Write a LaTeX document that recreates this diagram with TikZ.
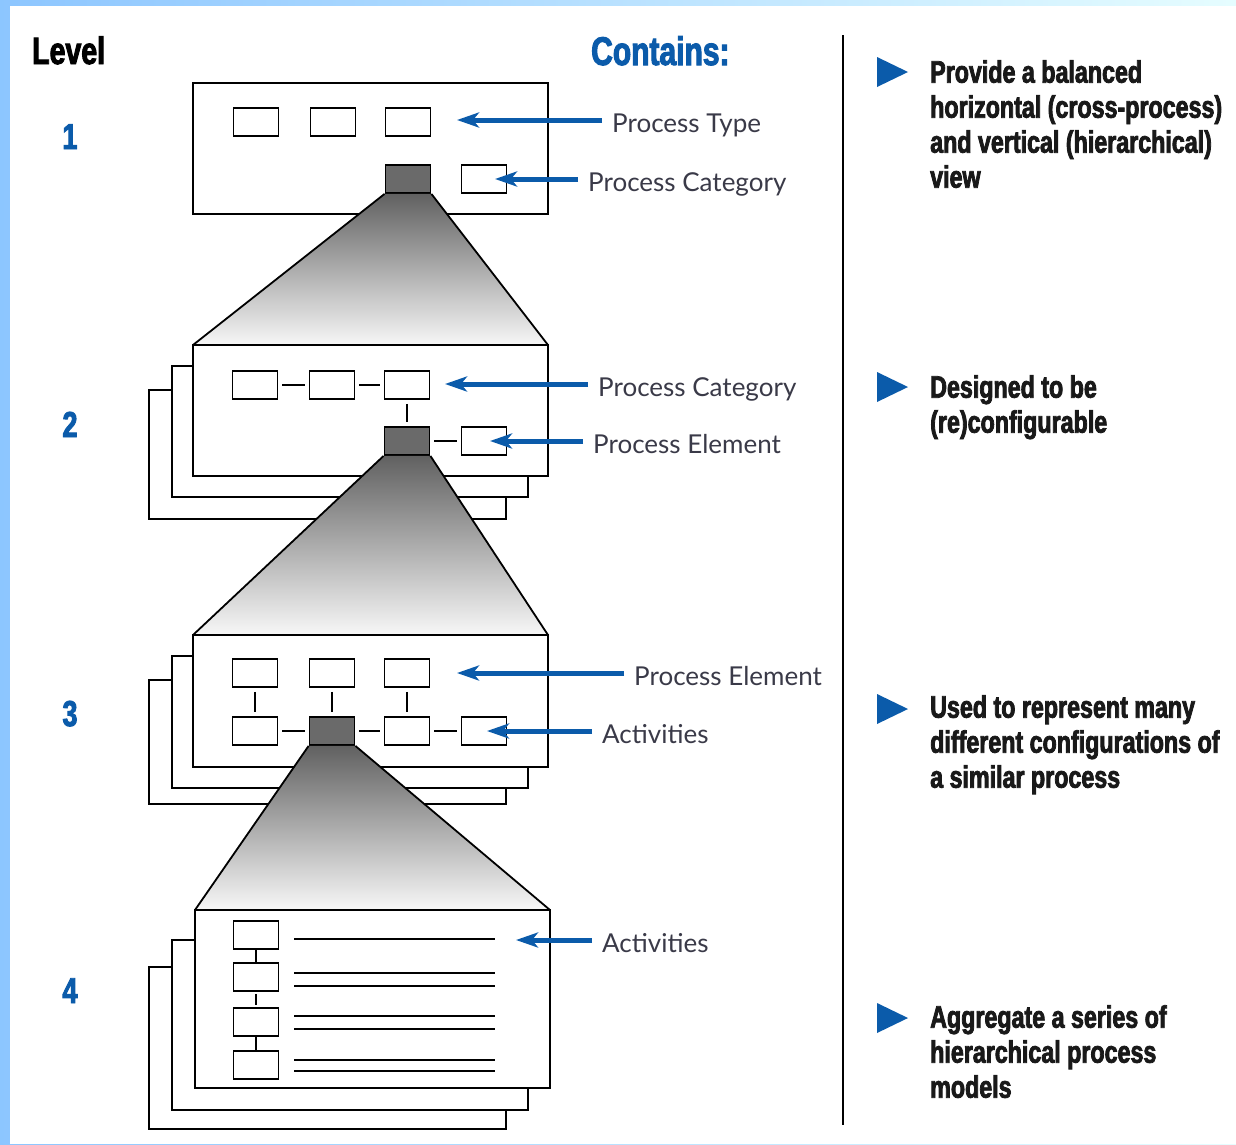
\documentclass[tikz,border=0pt]{standalone}
\usepackage{fontspec}
\setmainfont{Lato}
\newfontfamily\condfont{Liberation Sans}[FakeStretch=0.75, BoldFeatures={FakeBold=2.5}]
\usetikzlibrary{arrows.meta,positioning}
\definecolor{scorblue}{HTML}{0B5BAA}
\definecolor{darkfill}{HTML}{6A6A6A}
\definecolor{lbltext}{HTML}{3A3A48}
\tikzset{
  page/.style={draw, line width=1.8pt, fill=white},
  sbox/.style={draw, line width=1.8pt, fill=white, minimum width=45pt, minimum height=28pt, inner sep=0pt},
  dbox/.style={sbox, fill=darkfill},
  link/.style={line width=1.8pt, shorten <=4pt, shorten >=4pt},
  funnel/.style={top color=black!62, bottom color=black!3},
  ptr/.style={scorblue, line width=5pt, -{Stealth[length=22pt, width=15pt, inset=6pt]}},
  lbl/.style={anchor=west, inner xsep=10pt, inner ysep=0pt, text height=25pt, text depth=0pt, text=lbltext, font=\fontsize{26}{26}\selectfont},
  head/.style={anchor=base west, inner sep=0pt, font=\condfont\bfseries\fontsize{38}{38}\selectfont},
  num/.style={anchor=base, inner sep=0pt, text=scorblue, font=\condfont\bfseries\fontsize{36}{36}\selectfont},
  bul/.style={anchor=north west, align=left, inner sep=0pt, text=black!90, font=\condfont\bfseries\fontsize{31}{35}\selectfont}
}
\begin{document}
\begin{tikzpicture}[x=1pt, y=-1pt]
  \useasboundingbox (0,0) rectangle (1236,1144);
  % background
  \shade[left color=blue!50!cyan!45, right color=blue!8!cyan!10] (0,0) rectangle (1236,1144);
  \fill[white] (10,6) rectangle (1236,1144);

  % headings
  \node[head] (level) at (32,64) {Level};
  \node[head, text=scorblue, font=\condfont\bfseries\fontsize{40}{40}\selectfont] (contains) at (591,65) {Contains:};
  \node[num] (n1) at (70,149) {1};
  \node[num] (n2) at (70,437) {2};
  \node[num] (n3) at (70,726) {3};
  \node[num] (n4) at (70,1003) {4};

  % level 1
  \draw[page] (193,83) rectangle (548,214);
  \node[sbox] (a1) at (256,122) {};
  \node[sbox] (a2) at (333,122) {};
  \node[sbox] (a3) at (408,122) {};
  \node[dbox] (ad) at (408,179) {};
  \node[sbox] (ac) at (484,179) {};
  \shade[funnel] (ad.south west) -- (ad.south east) -- (548,345) -- (193,345) -- cycle;
  \draw[line width=1.8pt] (ad.south west) -- (193,345) (ad.south east) -- (548,345);

  % level 2
  \draw[page] (149,390) rectangle (506,519);
  \draw[page] (172,366) rectangle (528,497);
  \draw[page] (193,345) rectangle (548,476);
  \node[sbox] (b1) at (255,385) {};
  \node[sbox] (b2) at (332,385) {};
  \node[sbox] (b3) at (407,385) {};
  \node[dbox] (bd) at (407,441) {};
  \node[sbox] (be) at (484,441) {};
  \draw[link] (b1) -- (b2);
  \draw[link] (b2) -- (b3);
  \draw[link] (b3) -- (bd);
  \draw[link] (bd) -- (be);
  \shade[funnel] (bd.south west) -- (bd.south east) -- (548,635) -- (193,635) -- cycle;
  \draw[line width=1.8pt] (bd.south west) -- (193,635) (bd.south east) -- (548,635);

  % level 3
  \draw[page] (149,680) rectangle (506,804);
  \draw[page] (172,656) rectangle (528,788);
  \draw[page] (193,635) rectangle (548,767);
  \node[sbox] (c1) at (255,673) {};
  \node[sbox] (c2) at (332,673) {};
  \node[sbox] (c3) at (407,673) {};
  \node[sbox] (c4) at (255,731) {};
  \node[dbox] (cd) at (332,731) {};
  \node[sbox] (c5) at (407,731) {};
  \node[sbox] (c6) at (484,731) {};
  \draw[link] (c1) -- (c4);
  \draw[link] (c2) -- (cd);
  \draw[link] (c3) -- (c5);
  \draw[link] (c4) -- (cd);
  \draw[link] (cd) -- (c5);
  \draw[link] (c5) -- (c6);
  \shade[funnel] (cd.south west) -- (cd.south east) -- (550,910) -- (195,910) -- cycle;
  \draw[line width=1.8pt] (cd.south west) -- (195,910) (cd.south east) -- (550,910);

  % level 4
  \draw[page] (149,967) rectangle (506,1129);
  \draw[page] (172,940) rectangle (528,1110);
  \draw[page] (195,910) rectangle (550,1088);
  \node[sbox] (d1) at (256,935) {};
  \node[sbox] (d2) at (256,977) {};
  \node[sbox] (d3) at (256,1022) {};
  \node[sbox] (d4) at (256,1065) {};
  \draw[line width=1.8pt] (d1) -- (d2);
  \draw[link, shorten <=2pt, shorten >=2pt] (d2) -- (d3);
  \draw[line width=1.8pt] (d3) -- (d4);
  \foreach \y in {939,973,986,1016,1029,1060,1071}
    \draw[line width=1.8pt] (294,\y) -- (495,\y);

  % labels and pointers
  \node[lbl] (t1) at (602,120) {Process Type};
  \node[lbl] (t2) at (578,179) {Process Category};
  \node[lbl] (t3) at (588,384) {Process Category};
  \node[lbl] (t4) at (583,441) {Process Element};
  \node[lbl] (t5) at (624,673) {Process Element};
  \node[lbl] (t6) at (592,731) {Activities};
  \node[lbl] (t7) at (592,940) {Activities};
  \coordinate (p1) at (457,120);
  \coordinate (p2) at (495,179);
  \coordinate (p3) at (445,384);
  \coordinate (p4) at (490,441);
  \coordinate (p5) at (457,673);
  \coordinate (p6) at (487,731);
  \coordinate (p7) at (516,940);
  \foreach \i in {1,...,7}
    \draw[ptr] (t\i.west) -- (p\i);

  % divider
  \draw[line width=2pt] (843,35) -- (843,1125);

  % right column
  \foreach \y in {72,387,709,1018}
    \fill[scorblue] (877,\y-15) -- (908,\y) -- (877,\y+15) -- cycle;
  \node[bul] (r1) at (930,60) {Provide a balanced\\horizontal (cross-process)\\and vertical (hierarchical)\\view};
  \node[bul] (r2) at (930,375) {Designed to be\\(re)configurable};
  \node[bul] (r3) at (930,695) {Used to represent many\\different configurations of\\a similar process};
  \node[bul] (r4) at (930,1005) {Aggregate a series of\\hierarchical process\\models};
\end{tikzpicture}
\end{document}
